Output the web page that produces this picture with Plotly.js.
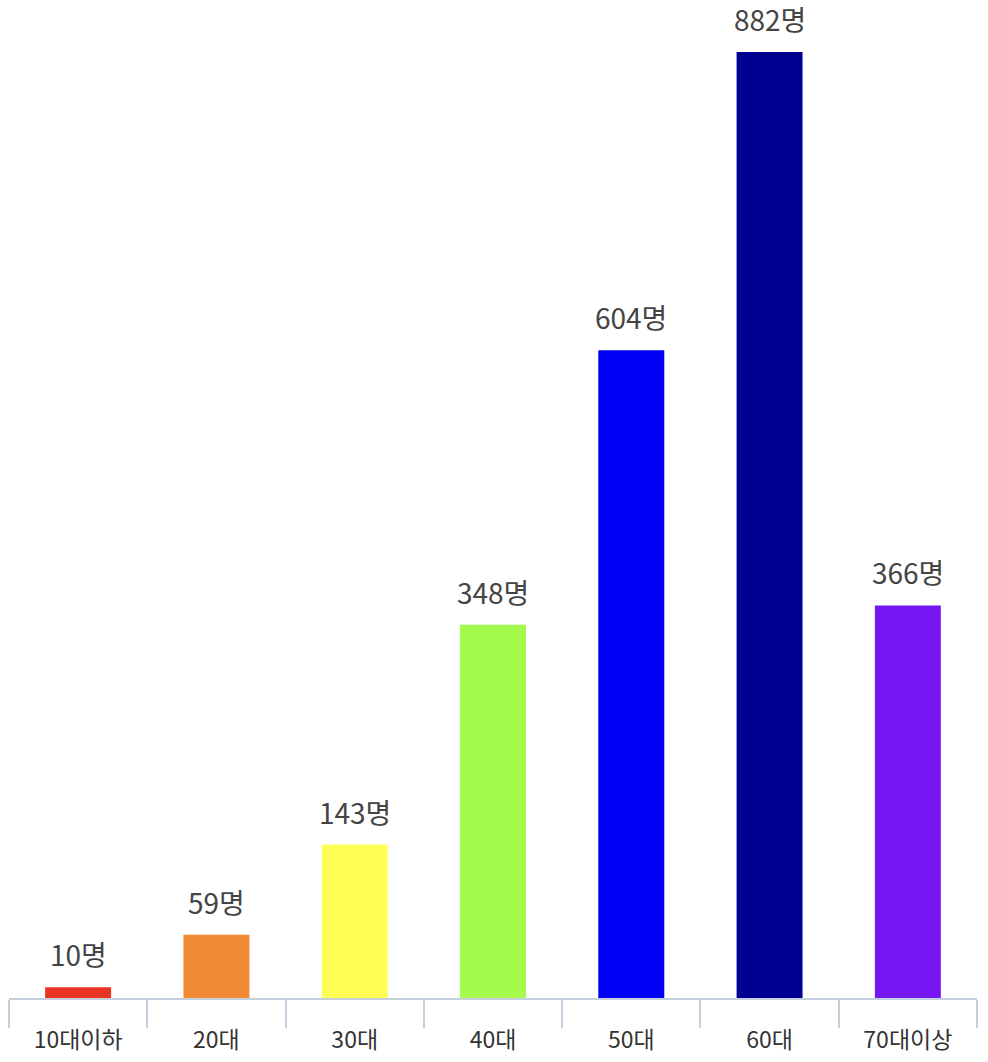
<!DOCTYPE html>
<html>
<head>
<meta charset="utf-8">
<script src="https://cdn.plot.ly/plotly-3.0.1.min.js"></script>
<style>html,body{margin:0;padding:0;background:#fff;}#chart{width:988px;height:1062px;}</style>
</head>
<body>
<div id="chart"></div>
<script>
const categories = ["10대이하", "20대", "30대", "40대", "50대", "60대", "70대이상"];
const values = [10, 59, 143, 348, 604, 882, 366];
const barColors = ["#e93324", "#f08a35", "#fffe55", "#a4fb4b", "#0000f5", "#000091", "#7616f2"];
const valueLabels = values.map(v => v + "명");

const FONT = "'Noto Sans CJK KR', 'Noto Sans', sans-serif";

const trace = {
  type: "bar",
  x: categories,
  y: values,
  marker: {color: barColors},
  hoverinfo: "none"
};

const annotations = categories.map((c, i) => ({
  x: c, y: values[i], xref: "x", yref: "y",
  text: valueLabels[i], showarrow: false,
  yanchor: "bottom", yshift: 11,
  font: {family: FONT, size: 28, color: "#444444"}
}));

const layout = {
  width: 988, height: 1062,
  margin: {l: 9, r: 11, t: 52, b: 64},
  paper_bgcolor: "#ffffff", plot_bgcolor: "#ffffff",
  showlegend: false,
  bargap: 0.523,
  xaxis: {
    type: "category", range: [-0.5, 6.5],
    showline: true, linecolor: "#c5d0df", linewidth: 2,
    ticks: "outside", tickson: "boundaries", ticklen: 28, tickwidth: 2, tickcolor: "#c5d0df",
    ticklabelstandoff: 20,
    showgrid: false, zeroline: false,
    tickfont: {family: FONT, size: 23, color: "#333333"}
  },
  yaxis: {
    range: [0, 882], visible: false, showgrid: false, zeroline: false
  },
  annotations: annotations
};

Plotly.newPlot("chart", [trace], layout, {staticPlot: true, displayModeBar: false});
</script>
</body>
</html>
